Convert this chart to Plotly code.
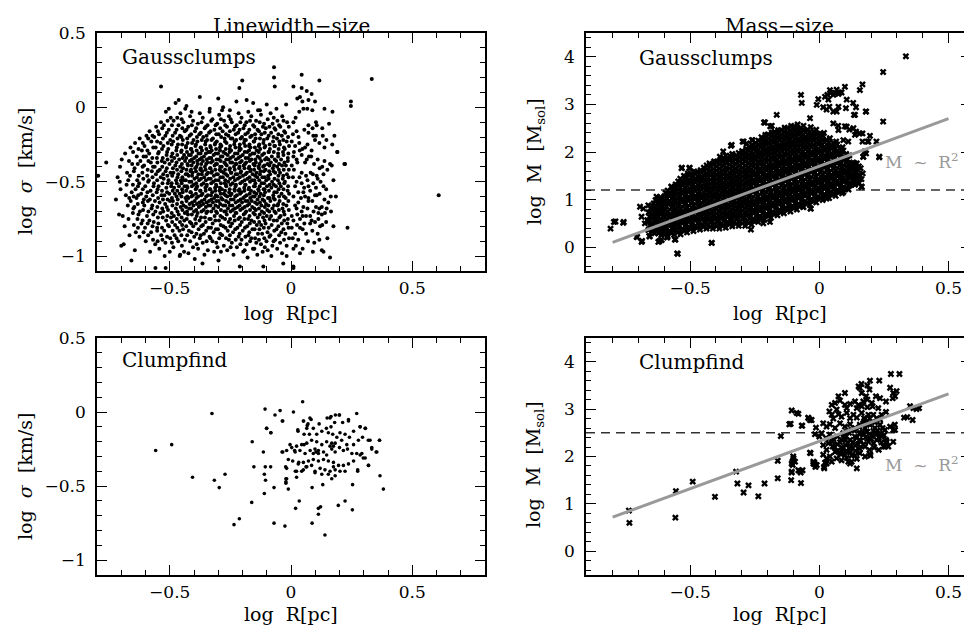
import plotly.graph_objects as go

# ---------------- data ----------------
# Gaussclumps, linewidth-size: (log R [pc], log sigma [km/s])
gc_lw_outer = [
    (-0.536, 0.14), (-0.201, 0.18), (-0.070, 0.27), (-0.070, 0.20), (-0.067, 0.14), (0.044, 0.22), (0.117, 0.18),
    (0.333, 0.19), (0.247, 0.04), (0.247, 0.01), (0.609, -0.59), (0.233, -0.81), (0.223, -0.38), (0.191, -0.30),
    (0.161, -1.01), (0.127, -0.96), (-0.213, 0.13), (-0.183, 0.05), (-0.300, 0.06), (-0.376, 0.07), (-0.463, 0.05),
    (-0.504, -0.01), (-0.431, 0.01), (-0.762, -0.37), (-0.795, -0.46), (-0.709, -0.72), (-0.690, -0.92),
    (-0.658, -1.03), (-0.559, -1.08), (-0.459, -1.00), (-0.517, -1.08), (-0.365, -1.05), (-0.211, -1.07),
    (-0.114, -1.07), (-0.032, -1.05), (0.010, -1.07), (-0.018, -1.00), (0.044, 0.13), (0.065, 0.11), (0.010, 0.14),
    (0.085, 0.09), (0.037, 0.07), (0.072, 0.05), (-0.335, -0.01), (-0.252, -0.02), (-0.156, 0.03), (-0.100, 0.02),
    (-0.128, -0.02), (-0.280, 0.00), (-0.225, 0.04), (-0.060, -0.01), (-0.020, 0.02), (-0.410, -0.03),
    (0.026, 0.06), (0.047, 0.04), (0.099, 0.04), (0.034, -0.03), (0.051, -0.01), (0.067, -0.01), (0.088, -0.02),
    (0.138, -0.01), (0.171, -0.03), (0.019, -0.07), (0.010, -0.10), (0.072, -0.12), (0.103, -0.10), (0.106, -0.12),
    (0.157, -0.11), (0.023, -0.16), (0.055, -0.15), (0.072, -0.17), (0.089, -0.14), (0.129, -0.14), (0.092, -0.19),
    (0.103, -0.19), (0.099, -0.22), (0.131, -0.19), (0.179, -0.19), (0.003, -0.23), (0.017, -0.26), (0.034, -0.24),
    (0.058, -0.27), (0.138, -0.27), (0.191, -0.30), (0.010, -0.33), (0.023, -0.35), (0.044, -0.32), (0.065, -0.35),
    (0.074, -0.33), (0.058, -0.37), (0.083, -0.33), (0.110, -0.35), (0.138, -0.36), (0.129, -0.40), (0.161, -0.38),
    (0.168, -0.39), (0.220, -0.38), (0.003, -0.39), (0.012, -0.42), (0.026, -0.37), (0.044, -0.44), (0.062, -0.46),
    (0.081, -0.44), (0.106, -0.46), (0.110, -0.48), (0.134, -0.45), (0.175, -0.49), (0.023, -0.50), (0.017, -0.53),
    (0.044, -0.51), (0.054, -0.54), (0.030, -0.57), (0.051, -0.57), (0.072, -0.53), (0.092, -0.51), (0.079, -0.56),
    (0.134, -0.53), (0.103, -0.54), (0.058, -0.60), (0.072, -0.61), (0.099, -0.59), (0.106, -0.59), (0.164, -0.60),
    (0.017, -0.66), (0.030, -0.64), (0.023, -0.68), (0.051, -0.67), (0.072, -0.63), (0.103, -0.67), (0.117, -0.68),
    (0.127, -0.67), (0.147, -0.68), (0.154, -0.64), (0.140, -0.71), (0.127, -0.72), (0.113, -0.71), (0.003, -0.73),
    (0.010, -0.76), (0.026, -0.72), (0.037, -0.75), (0.048, -0.73), (0.062, -0.73), (0.079, -0.73), (0.085, -0.76),
    (0.099, -0.77), (0.079, -0.78), (0.120, -0.80), (0.129, -0.79), (0.003, -0.81), (0.017, -0.85), (0.037, -0.81),
    (0.048, -0.82), (0.062, -0.85), (0.007, -0.88), (0.030, -0.89), (0.096, -0.91), (0.117, -0.89), (0.010, -0.95),
    (0.037, -0.98), (0.048, -0.95), (0.134, -0.97), (0.010, -1.08),
    (0.008, -0.18), (0.031, -0.20), (0.047, -0.28), (0.068, -0.25), (0.085, -0.29), (0.117, -0.24), (0.146, -0.22),
    (0.012, -0.30), (0.036, -0.29), (0.095, -0.38), (0.118, -0.41), (0.150, -0.42), (0.008, -0.47), (0.035, -0.47),
    (0.068, -0.49), (0.090, -0.45), (0.122, -0.50), (0.145, -0.55), (0.010, -0.60), (0.041, -0.61), (0.088, -0.63),
    (0.118, -0.58), (0.138, -0.62), (0.165, -0.70), (0.044, -0.70), (0.068, -0.68), (0.093, -0.70), (0.113, -0.75),
    (0.145, -0.77), (0.025, -0.79), (0.055, -0.78), (0.088, -0.83), (0.110, -0.85), (0.070, -0.90), (0.020, -0.93),
    (0.090, -0.97), (0.150, -0.88), (0.175, -0.80), (0.185, -0.60), (0.170, -0.25),
]
gc_lw_left = [
    (-0.715, -0.47), (-0.722, -0.62), (-0.705, -0.40),
    (-0.698, -0.35), (-0.703, -0.55), (-0.694, -0.73), (-0.700, -0.93), (-0.706, -0.50),
    (-0.684, -0.31), (-0.676, -0.44), (-0.681, -0.59), (-0.673, -0.66), (-0.686, -0.80), (-0.678, -0.52),
    (-0.668, -0.36), (-0.671, -0.49), (-0.667, -0.61), (-0.670, -0.75),
    (-0.662, -0.27), (-0.655, -0.38), (-0.664, -0.46), (-0.657, -0.57), (-0.661, -0.63), (-0.652, -0.71), (-0.666, -0.86),
    (-0.651, -0.30), (-0.648, -0.43), (-0.652, -0.52), (-0.649, -0.60), (-0.650, -0.68), (-0.648, -0.79),
    (-0.643, -0.24), (-0.636, -0.33), (-0.645, -0.41), (-0.634, -0.49), (-0.641, -0.55), (-0.637, -0.61), (-0.646, -0.67),
    (-0.633, -0.75), (-0.640, -0.84), (-0.644, -0.96),
    (-0.629, -0.28), (-0.632, -0.38), (-0.628, -0.46), (-0.631, -0.53), (-0.630, -0.59), (-0.632, -0.65), (-0.629, -0.72),
    (-0.631, -0.81),
    (-0.624, -0.21), (-0.615, -0.29), (-0.621, -0.36), (-0.613, -0.44), (-0.626, -0.51), (-0.618, -0.58), (-0.611, -0.64),
    (-0.623, -0.70), (-0.617, -0.78), (-0.625, -0.87),
    (-0.611, -0.24), (-0.608, -0.33), (-0.612, -0.40), (-0.609, -0.48), (-0.611, -0.55), (-0.607, -0.62), (-0.610, -0.69),
    (-0.612, -0.76), (-0.608, -0.84),
    (-0.596, -0.19), (-0.604, -0.26), (-0.598, -0.33), (-0.606, -0.39), (-0.593, -0.46), (-0.601, -0.53), (-0.597, -0.60),
    (-0.605, -0.66), (-0.594, -0.73), (-0.602, -0.81), (-0.599, -0.90),
    (-0.589, -0.21), (-0.592, -0.29), (-0.588, -0.36), (-0.591, -0.42), (-0.589, -0.50), (-0.592, -0.57), (-0.590, -0.63),
    (-0.588, -0.70), (-0.591, -0.78), (-0.589, -0.86),
    (-0.583, -0.16), (-0.576, -0.23), (-0.585, -0.31), (-0.578, -0.37), (-0.574, -0.43), (-0.586, -0.49), (-0.579, -0.56),
    (-0.582, -0.62), (-0.575, -0.68), (-0.584, -0.76), (-0.577, -0.84), (-0.581, -0.97),
    (-0.571, -0.19), (-0.568, -0.27), (-0.572, -0.34), (-0.569, -0.40), (-0.571, -0.47), (-0.567, -0.53), (-0.570, -0.59),
    (-0.572, -0.66), (-0.568, -0.72), (-0.571, -0.80), (-0.569, -0.89),
    (-0.556, -0.13), (-0.564, -0.20), (-0.558, -0.27), (-0.553, -0.34), (-0.562, -0.40), (-0.557, -0.45), (-0.565, -0.51),
    (-0.554, -0.57), (-0.561, -0.63), (-0.559, -0.70), (-0.566, -0.77), (-0.552, -0.83), (-0.560, -0.92),
    (-0.549, -0.16), (-0.552, -0.23), (-0.548, -0.31), (-0.551, -0.37), (-0.549, -0.43), (-0.552, -0.49), (-0.550, -0.55),
    (-0.548, -0.61), (-0.551, -0.67), (-0.549, -0.74), (-0.552, -0.81), (-0.550, -0.90),
    (-0.536, -0.10), (-0.544, -0.18), (-0.538, -0.24), (-0.545, -0.30), (-0.533, -0.36), (-0.541, -0.42), (-0.537, -0.47),
    (-0.546, -0.53), (-0.534, -0.59), (-0.542, -0.64), (-0.539, -0.71), (-0.547, -0.78), (-0.535, -0.86), (-0.543, -0.95),
    (-0.531, -0.14), (-0.528, -0.21), (-0.532, -0.28), (-0.529, -0.34), (-0.531, -0.40), (-0.527, -0.45), (-0.530, -0.51),
    (-0.532, -0.56), (-0.528, -0.62), (-0.531, -0.68), (-0.529, -0.74), (-0.532, -0.81), (-0.530, -0.89),
    (-0.516, -0.03), (-0.524, -0.12), (-0.518, -0.19), (-0.526, -0.26), (-0.513, -0.32), (-0.521, -0.37), (-0.517, -0.43),
    (-0.525, -0.48), (-0.514, -0.54), (-0.522, -0.59), (-0.519, -0.65), (-0.527, -0.70), (-0.515, -0.76), (-0.523, -0.83),
    (-0.518, -0.91), (-0.521, -1.00),
    (-0.509, -0.09), (-0.512, -0.17), (-0.508, -0.24), (-0.511, -0.30), (-0.509, -0.35), (-0.512, -0.41), (-0.510, -0.46),
    (-0.508, -0.51), (-0.511, -0.57), (-0.509, -0.62), (-0.512, -0.67), (-0.510, -0.73), (-0.508, -0.79), (-0.511, -0.87),
    (-0.496, -0.07), (-0.504, -0.15), (-0.498, -0.22), (-0.506, -0.28), (-0.493, -0.33), (-0.501, -0.38), (-0.497, -0.44),
    (-0.505, -0.49), (-0.494, -0.53), (-0.502, -0.58), (-0.499, -0.63), (-0.507, -0.69), (-0.495, -0.74), (-0.503, -0.80),
    (-0.498, -0.88), (-0.500, -0.97),
    (-0.491, -0.12), (-0.488, -0.19), (-0.492, -0.25), (-0.489, -0.31), (-0.491, -0.36), (-0.487, -0.41), (-0.490, -0.46),
    (-0.492, -0.51), (-0.488, -0.56), (-0.491, -0.61), (-0.489, -0.66), (-0.492, -0.71), (-0.490, -0.77), (-0.488, -0.83),
    (-0.491, -0.91),
    (-0.476, 0.03), (-0.484, -0.09), (-0.478, -0.17), (-0.486, -0.23), (-0.473, -0.29), (-0.481, -0.34), (-0.477, -0.39),
    (-0.485, -0.44), (-0.474, -0.49), (-0.482, -0.54), (-0.479, -0.58), (-0.487, -0.63), (-0.475, -0.68), (-0.483, -0.73),
    (-0.478, -0.79), (-0.480, -0.86), (-0.485, -0.94),
    (-0.469, -0.07), (-0.472, -0.15), (-0.468, -0.21), (-0.471, -0.27), (-0.469, -0.32), (-0.472, -0.37), (-0.470, -0.42),
    (-0.468, -0.47), (-0.471, -0.51), (-0.469, -0.56), (-0.472, -0.60), (-0.470, -0.65), (-0.468, -0.70), (-0.471, -0.75),
    (-0.469, -0.81), (-0.472, -0.88),
    (-0.456, -0.04), (-0.464, -0.12), (-0.458, -0.19), (-0.466, -0.25), (-0.453, -0.30), (-0.461, -0.35), (-0.457, -0.40),
    (-0.465, -0.45), (-0.454, -0.49), (-0.462, -0.53), (-0.459, -0.58), (-0.467, -0.62), (-0.455, -0.67), (-0.463, -0.72),
    (-0.458, -0.77), (-0.460, -0.83), (-0.465, -0.90), (-0.457, -0.99),
    (-0.451, -0.08), (-0.448, -0.14), (-0.452, -0.20), (-0.449, -0.25), (-0.451, -0.29), (-0.447, -0.34), (-0.450, -0.38),
    (-0.452, -0.43), (-0.448, -0.47), (-0.451, -0.51), (-0.449, -0.55), (-0.452, -0.60), (-0.450, -0.64), (-0.448, -0.69),
    (-0.451, -0.74), (-0.449, -0.79), (-0.452, -0.86), (-0.450, -0.93),
    (-0.436, -0.01), (-0.444, -0.10), (-0.438, -0.16), (-0.446, -0.22), (-0.433, -0.27), (-0.441, -0.32), (-0.437, -0.36),
    (-0.445, -0.41), (-0.434, -0.45), (-0.442, -0.49), (-0.439, -0.53), (-0.447, -0.57), (-0.435, -0.61), (-0.443, -0.66),
    (-0.438, -0.71), (-0.440, -0.76), (-0.445, -0.82), (-0.437, -0.89), (-0.441, -0.97),
]
gc_lw_core = [
    (-0.431, -0.15), (-0.428, -0.21), (-0.433, -0.26), (-0.429, -0.30), (-0.432, -0.34), (-0.427, -0.38), (-0.431, -0.42),
    (-0.428, -0.45), (-0.434, -0.49), (-0.429, -0.53), (-0.432, -0.56), (-0.428, -0.60), (-0.431, -0.63), (-0.433, -0.67),
    (-0.429, -0.70), (-0.430, -0.75), (-0.432, -0.80), (-0.428, -0.86),
    (-0.416, -0.06), (-0.424, -0.13), (-0.418, -0.19), (-0.426, -0.24), (-0.413, -0.28), (-0.421, -0.32), (-0.417, -0.36),
    (-0.425, -0.39), (-0.414, -0.43), (-0.422, -0.46), (-0.419, -0.50), (-0.427, -0.54), (-0.415, -0.57), (-0.423, -0.61),
    (-0.418, -0.65), (-0.420, -0.68), (-0.425, -0.72), (-0.417, -0.77), (-0.421, -0.83), (-0.416, -0.90), (-0.423, -0.98),
    (-0.409, -0.12), (-0.412, -0.18), (-0.408, -0.24), (-0.411, -0.28), (-0.413, -0.32), (-0.409, -0.35), (-0.410, -0.39),
    (-0.412, -0.42), (-0.408, -0.46), (-0.411, -0.50), (-0.409, -0.53), (-0.413, -0.57), (-0.410, -0.60), (-0.408, -0.64),
    (-0.412, -0.68), (-0.409, -0.72), (-0.411, -0.78), (-0.410, -0.84),
    (-0.404, -0.09), (-0.396, -0.16), (-0.402, -0.22), (-0.394, -0.26), (-0.407, -0.30), (-0.399, -0.34), (-0.403, -0.37),
    (-0.395, -0.41), (-0.406, -0.44), (-0.398, -0.48), (-0.401, -0.52), (-0.393, -0.55), (-0.405, -0.59), (-0.397, -0.63),
    (-0.402, -0.66), (-0.400, -0.70), (-0.395, -0.75), (-0.403, -0.80), (-0.399, -0.87), (-0.404, -0.94), (-0.397, -1.02),
    (-0.391, -0.14), (-0.388, -0.20), (-0.392, -0.25), (-0.389, -0.29), (-0.391, -0.33), (-0.387, -0.36), (-0.390, -0.40),
    (-0.392, -0.43), (-0.388, -0.47), (-0.391, -0.51), (-0.389, -0.54), (-0.392, -0.58), (-0.390, -0.61), (-0.388, -0.65),
    (-0.391, -0.69), (-0.389, -0.73), (-0.392, -0.78), (-0.390, -0.85), (-0.389, -0.92),
    (-0.376, -0.04), (-0.384, -0.11), (-0.378, -0.18), (-0.386, -0.23), (-0.373, -0.27), (-0.381, -0.31), (-0.377, -0.35),
    (-0.385, -0.38), (-0.374, -0.42), (-0.382, -0.45), (-0.379, -0.49), (-0.387, -0.53), (-0.375, -0.56), (-0.383, -0.60),
    (-0.378, -0.64), (-0.380, -0.67), (-0.385, -0.71), (-0.377, -0.76), (-0.381, -0.82), (-0.376, -0.88), (-0.383, -0.95),
    (-0.369, -0.10), (-0.372, -0.17), (-0.368, -0.22), (-0.371, -0.27), (-0.373, -0.31), (-0.369, -0.34), (-0.370, -0.38),
    (-0.372, -0.41), (-0.368, -0.45), (-0.371, -0.48), (-0.369, -0.52), (-0.373, -0.56), (-0.370, -0.59), (-0.368, -0.63),
    (-0.372, -0.66), (-0.369, -0.70), (-0.371, -0.74), (-0.370, -0.80), (-0.372, -0.86),
    (-0.364, -0.07), (-0.356, -0.14), (-0.362, -0.20), (-0.354, -0.25), (-0.367, -0.29), (-0.359, -0.33), (-0.363, -0.36),
    (-0.355, -0.40), (-0.366, -0.43), (-0.358, -0.47), (-0.361, -0.51), (-0.353, -0.54), (-0.365, -0.58), (-0.357, -0.62),
    (-0.362, -0.65), (-0.360, -0.69), (-0.355, -0.74), (-0.363, -0.79), (-0.359, -0.85), (-0.364, -0.91), (-0.357, -0.99),
    (-0.351, -0.13), (-0.348, -0.19), (-0.352, -0.23), (-0.349, -0.28), (-0.351, -0.31), (-0.347, -0.35), (-0.350, -0.38),
    (-0.352, -0.42), (-0.348, -0.45), (-0.351, -0.49), (-0.349, -0.53), (-0.352, -0.56), (-0.350, -0.60), (-0.348, -0.64),
    (-0.351, -0.67), (-0.349, -0.71), (-0.352, -0.77), (-0.350, -0.83), (-0.348, -0.90),
    (-0.336, -0.03), (-0.344, -0.12), (-0.338, -0.17), (-0.346, -0.22), (-0.333, -0.26), (-0.341, -0.30), (-0.337, -0.34),
    (-0.345, -0.37), (-0.334, -0.41), (-0.342, -0.44), (-0.339, -0.48), (-0.347, -0.52), (-0.335, -0.55), (-0.343, -0.59),
    (-0.338, -0.63), (-0.340, -0.66), (-0.345, -0.70), (-0.337, -0.75), (-0.341, -0.81), (-0.336, -0.87), (-0.343, -0.96),
    (-0.329, -0.09), (-0.332, -0.16), (-0.328, -0.22), (-0.331, -0.27), (-0.333, -0.30), (-0.329, -0.34), (-0.330, -0.37),
    (-0.332, -0.41), (-0.328, -0.44), (-0.331, -0.48), (-0.329, -0.51), (-0.333, -0.55), (-0.330, -0.59), (-0.328, -0.62),
    (-0.332, -0.66), (-0.329, -0.70), (-0.331, -0.75), (-0.330, -0.81), (-0.332, -0.88),
    (-0.324, -0.08), (-0.316, -0.15), (-0.322, -0.21), (-0.314, -0.25), (-0.327, -0.29), (-0.319, -0.32), (-0.323, -0.36),
    (-0.315, -0.39), (-0.326, -0.43), (-0.318, -0.46), (-0.321, -0.50), (-0.313, -0.54), (-0.325, -0.57), (-0.317, -0.61),
    (-0.322, -0.64), (-0.320, -0.68), (-0.315, -0.73), (-0.323, -0.78), (-0.319, -0.84), (-0.324, -0.90), (-0.317, -0.97),
    (-0.311, -0.12), (-0.308, -0.18), (-0.312, -0.24), (-0.309, -0.28), (-0.311, -0.31), (-0.307, -0.35), (-0.310, -0.38),
    (-0.312, -0.42), (-0.308, -0.45), (-0.311, -0.49), (-0.309, -0.52), (-0.312, -0.56), (-0.310, -0.59), (-0.308, -0.63),
    (-0.311, -0.66), (-0.309, -0.70), (-0.312, -0.76), (-0.310, -0.82), (-0.308, -0.91),
    (-0.296, -0.05), (-0.304, -0.11), (-0.298, -0.18), (-0.306, -0.23), (-0.293, -0.27), (-0.301, -0.31), (-0.297, -0.35),
    (-0.305, -0.38), (-0.294, -0.42), (-0.302, -0.45), (-0.299, -0.49), (-0.307, -0.53), (-0.295, -0.56), (-0.303, -0.60),
    (-0.298, -0.63), (-0.300, -0.67), (-0.305, -0.71), (-0.297, -0.76), (-0.301, -0.82), (-0.296, -0.88), (-0.303, -0.94),
    (-0.299, -1.03),
    (-0.289, -0.08), (-0.292, -0.14), (-0.288, -0.20), (-0.291, -0.25), (-0.293, -0.29), (-0.289, -0.33), (-0.290, -0.36),
    (-0.292, -0.40), (-0.288, -0.43), (-0.291, -0.47), (-0.289, -0.51), (-0.293, -0.54), (-0.290, -0.58), (-0.288, -0.61),
    (-0.292, -0.65), (-0.289, -0.69), (-0.291, -0.73), (-0.290, -0.79), (-0.292, -0.85), (-0.289, -0.97),
    (-0.284, -0.02), (-0.276, -0.09), (-0.282, -0.16), (-0.274, -0.21), (-0.287, -0.26), (-0.279, -0.30), (-0.283, -0.33),
    (-0.275, -0.37), (-0.286, -0.40), (-0.278, -0.44), (-0.281, -0.47), (-0.273, -0.51), (-0.285, -0.55), (-0.277, -0.58),
    (-0.282, -0.62), (-0.280, -0.66), (-0.275, -0.70), (-0.283, -0.74), (-0.279, -0.80), (-0.284, -0.86), (-0.277, -0.93),
    (-0.271, -0.12), (-0.268, -0.18), (-0.272, -0.23), (-0.269, -0.28), (-0.271, -0.31), (-0.267, -0.35), (-0.270, -0.38),
    (-0.272, -0.42), (-0.268, -0.45), (-0.271, -0.49), (-0.269, -0.52), (-0.272, -0.56), (-0.270, -0.59), (-0.268, -0.63),
    (-0.271, -0.66), (-0.269, -0.70), (-0.272, -0.75), (-0.270, -0.81), (-0.268, -0.88),
    (-0.256, -0.06), (-0.264, -0.13), (-0.258, -0.19), (-0.266, -0.24), (-0.253, -0.28), (-0.261, -0.32), (-0.257, -0.35),
    (-0.265, -0.39), (-0.254, -0.42), (-0.262, -0.46), (-0.259, -0.50), (-0.267, -0.53), (-0.255, -0.57), (-0.263, -0.60),
    (-0.258, -0.64), (-0.260, -0.68), (-0.265, -0.72), (-0.257, -0.77), (-0.261, -0.83), (-0.256, -0.89), (-0.263, -0.96),
    (-0.249, -0.08), (-0.252, -0.16), (-0.248, -0.21), (-0.251, -0.26), (-0.253, -0.30), (-0.249, -0.34), (-0.250, -0.37),
    (-0.252, -0.41), (-0.248, -0.44), (-0.251, -0.48), (-0.249, -0.52), (-0.253, -0.55), (-0.250, -0.59), (-0.248, -0.62),
    (-0.252, -0.66), (-0.249, -0.70), (-0.251, -0.75), (-0.250, -0.80), (-0.252, -0.86), (-0.249, -0.94),
    (-0.244, -0.10), (-0.236, -0.15), (-0.242, -0.21), (-0.234, -0.25), (-0.247, -0.29), (-0.239, -0.33), (-0.243, -0.37),
    (-0.235, -0.40), (-0.246, -0.44), (-0.238, -0.47), (-0.241, -0.51), (-0.233, -0.55), (-0.245, -0.58), (-0.237, -0.62),
    (-0.242, -0.66), (-0.240, -0.69), (-0.235, -0.73), (-0.243, -0.78), (-0.239, -0.84), (-0.244, -0.91), (-0.237, -0.99),
    (-0.231, -0.13), (-0.228, -0.18), (-0.232, -0.23), (-0.229, -0.27), (-0.231, -0.31), (-0.227, -0.35), (-0.230, -0.38),
    (-0.232, -0.42), (-0.228, -0.45), (-0.231, -0.49), (-0.229, -0.53), (-0.232, -0.56), (-0.230, -0.60), (-0.228, -0.64),
    (-0.231, -0.68), (-0.229, -0.71), (-0.232, -0.76), (-0.230, -0.82), (-0.228, -0.89),
    (-0.216, -0.04), (-0.224, -0.12), (-0.218, -0.17), (-0.226, -0.22), (-0.213, -0.27), (-0.221, -0.31), (-0.217, -0.34),
    (-0.225, -0.38), (-0.214, -0.41), (-0.222, -0.45), (-0.219, -0.48), (-0.227, -0.52), (-0.215, -0.56), (-0.223, -0.59),
    (-0.218, -0.63), (-0.220, -0.67), (-0.225, -0.71), (-0.217, -0.75), (-0.221, -0.81), (-0.216, -0.87), (-0.223, -0.94),
    (-0.209, -0.10), (-0.212, -0.15), (-0.208, -0.21), (-0.211, -0.25), (-0.213, -0.29), (-0.209, -0.33), (-0.210, -0.37),
    (-0.212, -0.40), (-0.208, -0.44), (-0.211, -0.47), (-0.209, -0.51), (-0.213, -0.55), (-0.210, -0.58), (-0.208, -0.62),
    (-0.212, -0.66), (-0.209, -0.69), (-0.211, -0.74), (-0.210, -0.79), (-0.212, -0.85), (-0.209, -0.92),
    (-0.204, -0.07), (-0.196, -0.14), (-0.202, -0.20), (-0.194, -0.24), (-0.207, -0.28), (-0.199, -0.32), (-0.203, -0.36),
    (-0.195, -0.39), (-0.206, -0.43), (-0.198, -0.46), (-0.201, -0.50), (-0.193, -0.54), (-0.205, -0.57), (-0.197, -0.61),
    (-0.202, -0.64), (-0.200, -0.68), (-0.195, -0.72), (-0.203, -0.77), (-0.199, -0.83), (-0.204, -0.89), (-0.197, -0.97),
    (-0.191, -0.12), (-0.188, -0.18), (-0.192, -0.22), (-0.189, -0.26), (-0.191, -0.30), (-0.187, -0.34), (-0.190, -0.38),
    (-0.192, -0.41), (-0.188, -0.45), (-0.191, -0.49), (-0.189, -0.52), (-0.192, -0.56), (-0.190, -0.60), (-0.188, -0.63),
    (-0.191, -0.67), (-0.189, -0.71), (-0.192, -0.75), (-0.190, -0.81), (-0.188, -0.87), (-0.191, -0.96),
    (-0.176, -0.03), (-0.184, -0.10), (-0.178, -0.17), (-0.186, -0.22), (-0.173, -0.26), (-0.181, -0.30), (-0.177, -0.34),
    (-0.185, -0.37), (-0.174, -0.41), (-0.182, -0.44), (-0.179, -0.48), (-0.187, -0.52), (-0.175, -0.55), (-0.183, -0.59),
    (-0.178, -0.63), (-0.180, -0.66), (-0.185, -0.70), (-0.177, -0.75), (-0.181, -0.80), (-0.176, -0.86), (-0.183, -0.92),
    (-0.179, -1.01),
    (-0.169, -0.09), (-0.172, -0.15), (-0.168, -0.20), (-0.171, -0.25), (-0.173, -0.29), (-0.169, -0.32), (-0.170, -0.36),
    (-0.172, -0.40), (-0.168, -0.43), (-0.171, -0.47), (-0.169, -0.50), (-0.173, -0.54), (-0.170, -0.58), (-0.168, -0.61),
    (-0.172, -0.65), (-0.169, -0.69), (-0.171, -0.73), (-0.170, -0.78), (-0.172, -0.84), (-0.169, -0.90),
    (-0.164, -0.06), (-0.156, -0.12), (-0.162, -0.19), (-0.154, -0.23), (-0.167, -0.27), (-0.159, -0.31), (-0.163, -0.35),
    (-0.155, -0.38), (-0.166, -0.42), (-0.158, -0.45), (-0.161, -0.49), (-0.153, -0.53), (-0.165, -0.56), (-0.157, -0.60),
    (-0.162, -0.63), (-0.160, -0.67), (-0.155, -0.71), (-0.163, -0.76), (-0.159, -0.82), (-0.164, -0.88), (-0.157, -0.95),
    (-0.151, -0.13), (-0.148, -0.18), (-0.152, -0.23), (-0.149, -0.27), (-0.151, -0.31), (-0.147, -0.35), (-0.150, -0.39),
    (-0.152, -0.42), (-0.148, -0.46), (-0.151, -0.49), (-0.149, -0.53), (-0.152, -0.57), (-0.150, -0.60), (-0.148, -0.64),
    (-0.151, -0.68), (-0.149, -0.72), (-0.152, -0.77), (-0.150, -0.82), (-0.148, -0.88), (-0.151, -0.95),
    (-0.136, -0.02), (-0.144, -0.09), (-0.138, -0.15), (-0.146, -0.21), (-0.133, -0.26), (-0.141, -0.29), (-0.137, -0.33),
    (-0.145, -0.37), (-0.134, -0.40), (-0.142, -0.44), (-0.139, -0.47), (-0.147, -0.51), (-0.135, -0.55), (-0.143, -0.58),
    (-0.138, -0.62), (-0.140, -0.65), (-0.145, -0.69), (-0.137, -0.74), (-0.141, -0.79), (-0.136, -0.85), (-0.143, -0.91),
    (-0.139, -0.99),
    (-0.129, -0.10), (-0.132, -0.16), (-0.128, -0.21), (-0.131, -0.25), (-0.133, -0.30), (-0.129, -0.34), (-0.130, -0.38),
    (-0.132, -0.41), (-0.128, -0.45), (-0.131, -0.49), (-0.129, -0.53), (-0.133, -0.56), (-0.130, -0.60), (-0.128, -0.64),
    (-0.132, -0.68), (-0.129, -0.72), (-0.131, -0.77), (-0.130, -0.82), (-0.132, -0.89),
    (-0.124, -0.05), (-0.116, -0.13), (-0.122, -0.18), (-0.114, -0.24), (-0.127, -0.28), (-0.119, -0.32), (-0.123, -0.36),
    (-0.115, -0.40), (-0.126, -0.43), (-0.118, -0.47), (-0.121, -0.51), (-0.113, -0.55), (-0.125, -0.58), (-0.117, -0.62),
    (-0.122, -0.66), (-0.120, -0.70), (-0.115, -0.74), (-0.123, -0.79), (-0.119, -0.85), (-0.124, -0.92), (-0.117, -0.97),
    (-0.111, -0.11), (-0.108, -0.17), (-0.112, -0.22), (-0.109, -0.27), (-0.111, -0.31), (-0.107, -0.35), (-0.110, -0.39),
    (-0.112, -0.43), (-0.108, -0.47), (-0.111, -0.51), (-0.109, -0.55), (-0.112, -0.59), (-0.110, -0.63), (-0.108, -0.67),
    (-0.111, -0.71), (-0.109, -0.76), (-0.112, -0.81), (-0.110, -0.88), (-0.108, -0.94),
    (-0.096, -0.08), (-0.104, -0.14), (-0.098, -0.21), (-0.106, -0.26), (-0.093, -0.30), (-0.101, -0.34), (-0.097, -0.38),
    (-0.105, -0.42), (-0.094, -0.46), (-0.102, -0.49), (-0.099, -0.53), (-0.107, -0.57), (-0.095, -0.61), (-0.103, -0.65),
    (-0.098, -0.69), (-0.100, -0.73), (-0.105, -0.78), (-0.097, -0.84), (-0.101, -0.90), (-0.096, -0.96),
    (-0.089, -0.13), (-0.092, -0.19), (-0.088, -0.25), (-0.091, -0.30), (-0.093, -0.35), (-0.089, -0.39), (-0.090, -0.43),
    (-0.092, -0.48), (-0.088, -0.52), (-0.091, -0.56), (-0.089, -0.61), (-0.093, -0.66), (-0.090, -0.70), (-0.088, -0.75),
    (-0.092, -0.81), (-0.089, -0.87),
    (-0.084, -0.04), (-0.076, -0.11), (-0.082, -0.17), (-0.074, -0.23), (-0.087, -0.28), (-0.079, -0.33), (-0.083, -0.37),
    (-0.075, -0.41), (-0.086, -0.45), (-0.078, -0.50), (-0.081, -0.54), (-0.073, -0.59), (-0.085, -0.63), (-0.077, -0.68),
    (-0.082, -0.73), (-0.080, -0.79), (-0.085, -0.86), (-0.077, -0.93), (-0.081, -1.00),
    (-0.071, -0.07), (-0.068, -0.14), (-0.072, -0.20), (-0.069, -0.26), (-0.071, -0.30), (-0.067, -0.35), (-0.070, -0.39),
    (-0.072, -0.43), (-0.068, -0.48), (-0.071, -0.52), (-0.069, -0.57), (-0.072, -0.61), (-0.070, -0.66), (-0.068, -0.70),
    (-0.071, -0.76), (-0.069, -0.83), (-0.072, -0.90),
    (-0.056, -0.09), (-0.064, -0.15), (-0.058, -0.21), (-0.066, -0.26), (-0.053, -0.31), (-0.061, -0.36), (-0.057, -0.40),
    (-0.065, -0.44), (-0.054, -0.49), (-0.062, -0.53), (-0.059, -0.57), (-0.067, -0.62), (-0.055, -0.66), (-0.063, -0.71),
    (-0.058, -0.76), (-0.060, -0.82), (-0.065, -0.89), (-0.057, -0.95),
    (-0.049, -0.12), (-0.052, -0.18), (-0.048, -0.23), (-0.051, -0.28), (-0.053, -0.33), (-0.049, -0.38), (-0.050, -0.42),
    (-0.052, -0.46), (-0.048, -0.51), (-0.051, -0.55), (-0.049, -0.60), (-0.053, -0.65), (-0.050, -0.69), (-0.048, -0.74),
    (-0.052, -0.80), (-0.049, -0.86),
    (-0.036, -0.06), (-0.044, -0.13), (-0.038, -0.19), (-0.046, -0.25), (-0.033, -0.30), (-0.041, -0.35), (-0.037, -0.39),
    (-0.045, -0.44), (-0.034, -0.48), (-0.042, -0.53), (-0.039, -0.58), (-0.047, -0.63), (-0.035, -0.68), (-0.043, -0.73),
    (-0.038, -0.78), (-0.040, -0.84), (-0.045, -0.91), (-0.037, -0.98),
    (-0.031, -0.09), (-0.028, -0.16), (-0.032, -0.22), (-0.029, -0.27), (-0.031, -0.32), (-0.027, -0.37), (-0.030, -0.42),
    (-0.032, -0.46), (-0.028, -0.51), (-0.031, -0.55), (-0.029, -0.60), (-0.032, -0.65), (-0.030, -0.70), (-0.028, -0.76),
    (-0.031, -0.82), (-0.029, -0.89),
    (-0.016, -0.10), (-0.024, -0.17), (-0.018, -0.23), (-0.026, -0.28), (-0.013, -0.34), (-0.021, -0.39), (-0.017, -0.45),
    (-0.025, -0.50), (-0.014, -0.56), (-0.022, -0.61), (-0.019, -0.66), (-0.027, -0.72), (-0.015, -0.78), (-0.023, -0.85),
    (-0.018, -0.93),
    (-0.009, -0.13), (-0.012, -0.20), (-0.008, -0.26), (-0.011, -0.31), (-0.013, -0.36), (-0.009, -0.42), (-0.010, -0.47),
    (-0.012, -0.53), (-0.008, -0.58), (-0.011, -0.63), (-0.009, -0.69), (-0.013, -0.75), (-0.010, -0.81), (-0.008, -0.88),
]

# Gaussclumps, mass-size: (log R [pc], log M [Msol])
gc_ms_outer = [
    (-0.808, 0.39), (-0.789, 0.54), (-0.757, 0.53), (-0.705, 0.21), (-0.686, 0.13), (-0.656, 0.23), (-0.618, 0.13),
    (-0.589, 0.20), (-0.557, 0.16), (-0.548, -0.14), (-0.416, 0.09), (-0.532, 1.67), (-0.502, 1.67), (-0.342, 2.13),
    (-0.293, 2.22), (-0.261, 2.25), (-0.210, 2.62), (-0.190, 2.54), (-0.165, 2.78), (-0.071, 3.20), (-0.068, 3.03),
    (-0.010, 2.99), (0.015, 2.94), (0.035, 3.10), (0.022, 3.16), (0.054, 3.20), (0.077, 3.25), (0.099, 3.37),
    (0.067, 3.31), (0.041, 3.30), (-0.004, 3.11), (0.028, 2.89), (0.054, 2.85), (0.106, 3.10), (0.131, 3.03),
    (0.142, 2.94), (0.180, 2.85), (0.167, 3.42), (0.157, 3.30), (0.134, 2.78), (0.099, 2.54), (0.073, 2.55),
    (0.116, 2.47), (0.142, 2.43), (0.247, 3.68), (0.335, 4.01), (0.247, 2.64), (0.232, 1.89), (0.187, 2.22),
    (0.221, 2.22), (0.196, 2.34), (0.167, 2.39), (0.163, 1.27), (0.154, 1.35), (-0.033, 0.81), (0.138, 1.76),
    (0.176, 2.01), (0.170, 1.90), (-0.036, 2.71), (-0.184, 2.55),
    (0.031, 3.20), (0.044, 3.24), (0.061, 3.24), (0.074, 3.22), (0.086, 3.25), (0.039, 2.95), (0.067, 2.85),
    (0.074, 2.95), (0.103, 2.92), (0.138, 2.78), (0.181, 2.85), (0.132, 2.50), (0.157, 2.39), (0.138, 2.36),
    (0.106, 2.53), (0.074, 2.46), (0.054, 2.60), (0.093, 2.25), (0.112, 2.22), (0.167, 2.22), (0.190, 2.22),
    (-0.214, 2.62), (-0.297, 2.22), (-0.281, 2.18), (-0.258, 2.25), (-0.339, 2.15), (-0.385, 1.90), (-0.372, 2.01),
    (-0.533, 1.66), (-0.503, 1.66), (-0.516, 1.48), (-0.503, 1.38), (-0.572, 1.27), (-0.630, 1.06), (-0.617, 1.02),
    (-0.694, 0.85), (-0.681, 0.81), (-0.662, 0.88), (-0.688, 0.64), (-0.675, 0.50), (-0.666, 0.57), (-0.795, 0.53),
    (-0.759, 0.51), (-0.707, 0.22), (-0.688, 0.11), (-0.658, 0.23), (-0.623, 0.11), (-0.610, 0.15), (-0.559, 0.16),
    (-0.597, 0.39), (-0.550, -0.13), (-0.417, 0.09), (-0.265, 0.37), (-0.191, 0.53), (-0.217, 0.50), (-0.152, 0.74),
    (-0.114, 0.81), (-0.062, 0.85), (-0.034, 0.81), (0.028, 1.02), (0.093, 1.16), (0.164, 1.27), (0.132, 1.38),
    (0.145, 1.48), (0.170, 1.90), (0.181, 1.97), (0.232, 1.90),
]
gc_ms_core = [
    (-0.662, 0.36), (-0.655, 0.46), (-0.664, 0.55), (-0.657, 0.64), (-0.661, 0.73), (-0.653, 0.82),
    (-0.648, 0.33), (-0.645, 0.42), (-0.650, 0.51), (-0.646, 0.60), (-0.649, 0.69), (-0.644, 0.78), (-0.647, 0.87),
    (-0.637, 0.29), (-0.631, 0.38), (-0.640, 0.48), (-0.633, 0.56), (-0.638, 0.66), (-0.630, 0.74), (-0.636, 0.83),
    (-0.641, 0.92), (-0.634, 0.99),
    (-0.623, 0.29), (-0.620, 0.38), (-0.625, 0.47), (-0.621, 0.56), (-0.624, 0.65), (-0.619, 0.74), (-0.622, 0.83),
    (-0.626, 0.92), (-0.621, 1.00),
    (-0.612, 0.25), (-0.606, 0.34), (-0.615, 0.43), (-0.608, 0.52), (-0.613, 0.60), (-0.605, 0.70), (-0.611, 0.78),
    (-0.616, 0.87), (-0.609, 0.96), (-0.614, 1.05),
    (-0.598, 0.27), (-0.595, 0.36), (-0.600, 0.45), (-0.596, 0.54), (-0.599, 0.63), (-0.594, 0.71), (-0.597, 0.80),
    (-0.601, 0.89), (-0.596, 0.98), (-0.599, 1.07), (-0.595, 1.14),
    (-0.587, 0.23), (-0.581, 0.31), (-0.590, 0.41), (-0.583, 0.49), (-0.588, 0.58), (-0.580, 0.67), (-0.586, 0.75),
    (-0.591, 0.85), (-0.584, 0.93), (-0.589, 1.02), (-0.582, 1.11), (-0.587, 1.19),
    (-0.573, 0.30), (-0.570, 0.39), (-0.575, 0.48), (-0.571, 0.57), (-0.574, 0.66), (-0.569, 0.75), (-0.572, 0.84),
    (-0.576, 0.93), (-0.571, 1.02), (-0.574, 1.11), (-0.570, 1.20), (-0.573, 1.27),
    (-0.562, 0.26), (-0.556, 0.35), (-0.565, 0.44), (-0.558, 0.53), (-0.563, 0.62), (-0.555, 0.70), (-0.561, 0.79),
    (-0.566, 0.88), (-0.559, 0.97), (-0.564, 1.06), (-0.557, 1.15), (-0.562, 1.24), (-0.556, 1.32),
    (-0.548, 0.31), (-0.545, 0.40), (-0.550, 0.49), (-0.546, 0.58), (-0.549, 0.67), (-0.544, 0.76), (-0.547, 0.85),
    (-0.551, 0.94), (-0.546, 1.03), (-0.549, 1.12), (-0.545, 1.21), (-0.548, 1.30), (-0.546, 1.38),
    (-0.537, 0.27), (-0.531, 0.36), (-0.540, 0.45), (-0.533, 0.54), (-0.538, 0.63), (-0.530, 0.72), (-0.536, 0.81),
    (-0.541, 0.90), (-0.534, 0.99), (-0.539, 1.08), (-0.532, 1.17), (-0.537, 1.26), (-0.531, 1.35), (-0.538, 1.44),
    (-0.523, 0.35), (-0.520, 0.44), (-0.525, 0.53), (-0.521, 0.62), (-0.524, 0.71), (-0.519, 0.80), (-0.522, 0.89),
    (-0.526, 0.98), (-0.521, 1.07), (-0.524, 1.16), (-0.520, 1.25), (-0.523, 1.34), (-0.521, 1.43), (-0.524, 1.50),
    (-0.512, 0.31), (-0.506, 0.40), (-0.515, 0.49), (-0.508, 0.58), (-0.513, 0.66), (-0.505, 0.75), (-0.511, 0.84),
    (-0.516, 0.93), (-0.509, 1.02), (-0.514, 1.11), (-0.507, 1.20), (-0.512, 1.29), (-0.506, 1.38), (-0.513, 1.47),
    (-0.509, 1.55),
    (-0.498, 0.38), (-0.495, 0.47), (-0.500, 0.56), (-0.496, 0.65), (-0.499, 0.74), (-0.494, 0.83), (-0.497, 0.92),
    (-0.501, 1.01), (-0.496, 1.10), (-0.499, 1.19), (-0.495, 1.28), (-0.498, 1.37), (-0.496, 1.46), (-0.499, 1.54),
    (-0.487, 0.34), (-0.481, 0.43), (-0.490, 0.52), (-0.483, 0.61), (-0.488, 0.70), (-0.480, 0.78), (-0.486, 0.87),
    (-0.491, 0.96), (-0.484, 1.05), (-0.489, 1.14), (-0.482, 1.23), (-0.487, 1.32), (-0.481, 1.41), (-0.488, 1.50),
    (-0.484, 1.59),
    (-0.473, 0.41), (-0.470, 0.50), (-0.475, 0.59), (-0.471, 0.68), (-0.474, 0.77), (-0.469, 0.86), (-0.472, 0.95),
    (-0.476, 1.04), (-0.471, 1.13), (-0.474, 1.22), (-0.470, 1.31), (-0.473, 1.40), (-0.471, 1.49), (-0.474, 1.58),
    (-0.462, 0.37), (-0.456, 0.46), (-0.465, 0.55), (-0.458, 0.64), (-0.463, 0.73), (-0.455, 0.81), (-0.461, 0.90),
    (-0.466, 0.99), (-0.459, 1.08), (-0.464, 1.17), (-0.457, 1.26), (-0.462, 1.35), (-0.456, 1.44), (-0.463, 1.53),
    (-0.459, 1.62),
    (-0.448, 0.43), (-0.445, 0.52), (-0.450, 0.61), (-0.446, 0.70), (-0.449, 0.79), (-0.444, 0.88), (-0.447, 0.97),
    (-0.451, 1.06), (-0.446, 1.15), (-0.449, 1.24), (-0.445, 1.33), (-0.448, 1.42), (-0.446, 1.51), (-0.449, 1.60),
    (-0.447, 1.67),
    (-0.437, 0.39), (-0.431, 0.48), (-0.440, 0.57), (-0.433, 0.65), (-0.438, 0.74), (-0.430, 0.83), (-0.436, 0.92),
    (-0.441, 1.01), (-0.434, 1.10), (-0.439, 1.19), (-0.432, 1.28), (-0.437, 1.37), (-0.431, 1.46), (-0.438, 1.55),
    (-0.434, 1.64), (-0.436, 1.72),
    (-0.423, 0.43), (-0.420, 0.52), (-0.425, 0.61), (-0.421, 0.70), (-0.424, 0.79), (-0.419, 0.88), (-0.422, 0.97),
    (-0.426, 1.06), (-0.421, 1.15), (-0.424, 1.24), (-0.420, 1.33), (-0.423, 1.42), (-0.421, 1.51), (-0.424, 1.60),
    (-0.422, 1.69), (-0.425, 1.76),
    (-0.412, 0.39), (-0.406, 0.47), (-0.415, 0.56), (-0.408, 0.65), (-0.413, 0.74), (-0.405, 0.83), (-0.411, 0.92),
    (-0.416, 1.01), (-0.409, 1.10), (-0.414, 1.19), (-0.407, 1.28), (-0.412, 1.37), (-0.406, 1.46), (-0.413, 1.55),
    (-0.409, 1.64), (-0.411, 1.73), (-0.407, 1.80),
    (-0.398, 0.44), (-0.395, 0.53), (-0.400, 0.62), (-0.396, 0.71), (-0.399, 0.80), (-0.394, 0.89), (-0.397, 0.98),
    (-0.401, 1.07), (-0.396, 1.16), (-0.399, 1.25), (-0.395, 1.34), (-0.398, 1.43), (-0.396, 1.52), (-0.399, 1.61),
    (-0.397, 1.70), (-0.400, 1.79),
    (-0.387, 0.39), (-0.381, 0.48), (-0.390, 0.57), (-0.383, 0.66), (-0.388, 0.75), (-0.380, 0.84), (-0.386, 0.93),
    (-0.391, 1.02), (-0.384, 1.11), (-0.389, 1.20), (-0.382, 1.29), (-0.387, 1.38), (-0.381, 1.47), (-0.388, 1.56),
    (-0.384, 1.65), (-0.386, 1.74), (-0.382, 1.83),
    (-0.373, 0.45), (-0.370, 0.54), (-0.375, 0.63), (-0.371, 0.72), (-0.374, 0.81), (-0.369, 0.90), (-0.372, 0.99),
    (-0.376, 1.08), (-0.371, 1.17), (-0.374, 1.26), (-0.370, 1.35), (-0.373, 1.44), (-0.371, 1.53), (-0.374, 1.62),
    (-0.372, 1.71), (-0.375, 1.80), (-0.371, 1.88),
    (-0.362, 0.41), (-0.356, 0.50), (-0.365, 0.59), (-0.358, 0.68), (-0.363, 0.77), (-0.355, 0.86), (-0.361, 0.95),
    (-0.366, 1.04), (-0.359, 1.13), (-0.364, 1.22), (-0.357, 1.31), (-0.362, 1.40), (-0.356, 1.49), (-0.363, 1.58),
    (-0.359, 1.67), (-0.361, 1.76), (-0.357, 1.85), (-0.362, 1.92),
    (-0.348, 0.48), (-0.345, 0.57), (-0.350, 0.66), (-0.346, 0.75), (-0.349, 0.84), (-0.344, 0.93), (-0.347, 1.02),
    (-0.351, 1.11), (-0.346, 1.20), (-0.349, 1.29), (-0.345, 1.38), (-0.348, 1.47), (-0.346, 1.56), (-0.349, 1.65),
    (-0.347, 1.74), (-0.350, 1.83), (-0.346, 1.92),
    (-0.337, 0.44), (-0.331, 0.53), (-0.340, 0.62), (-0.333, 0.71), (-0.338, 0.80), (-0.330, 0.89), (-0.336, 0.98),
    (-0.341, 1.07), (-0.334, 1.16), (-0.339, 1.25), (-0.332, 1.34), (-0.337, 1.43), (-0.331, 1.52), (-0.338, 1.61),
    (-0.334, 1.70), (-0.336, 1.79), (-0.332, 1.88), (-0.337, 1.96),
    (-0.323, 0.49), (-0.320, 0.58), (-0.325, 0.67), (-0.321, 0.76), (-0.324, 0.85), (-0.319, 0.94), (-0.322, 1.03),
    (-0.326, 1.12), (-0.321, 1.21), (-0.324, 1.30), (-0.320, 1.39), (-0.323, 1.48), (-0.321, 1.57), (-0.324, 1.66),
    (-0.322, 1.75), (-0.325, 1.84), (-0.321, 1.93),
    (-0.312, 0.45), (-0.306, 0.54), (-0.315, 0.63), (-0.308, 0.72), (-0.313, 0.81), (-0.305, 0.90), (-0.311, 0.99),
    (-0.316, 1.08), (-0.309, 1.17), (-0.314, 1.26), (-0.307, 1.35), (-0.312, 1.44), (-0.306, 1.53), (-0.313, 1.62),
    (-0.309, 1.71), (-0.311, 1.80), (-0.307, 1.89), (-0.312, 1.98),
    (-0.298, 0.50), (-0.295, 0.59), (-0.300, 0.68), (-0.296, 0.77), (-0.299, 0.86), (-0.294, 0.95), (-0.297, 1.04),
    (-0.301, 1.13), (-0.296, 1.22), (-0.299, 1.31), (-0.295, 1.40), (-0.298, 1.49), (-0.296, 1.58), (-0.299, 1.67),
    (-0.297, 1.76), (-0.300, 1.85), (-0.296, 1.94), (-0.299, 2.02),
    (-0.287, 0.45), (-0.281, 0.54), (-0.290, 0.63), (-0.283, 0.72), (-0.288, 0.81), (-0.280, 0.90), (-0.286, 0.99),
    (-0.291, 1.08), (-0.284, 1.17), (-0.289, 1.26), (-0.282, 1.35), (-0.287, 1.44), (-0.281, 1.53), (-0.288, 1.62),
    (-0.284, 1.71), (-0.286, 1.80), (-0.282, 1.89), (-0.287, 1.98), (-0.283, 2.07),
    (-0.273, 0.51), (-0.270, 0.60), (-0.275, 0.69), (-0.271, 0.78), (-0.274, 0.87), (-0.269, 0.96), (-0.272, 1.05),
    (-0.276, 1.14), (-0.271, 1.23), (-0.274, 1.32), (-0.270, 1.41), (-0.273, 1.50), (-0.271, 1.59), (-0.274, 1.68),
    (-0.272, 1.77), (-0.275, 1.86), (-0.271, 1.95), (-0.274, 2.04), (-0.272, 2.11),
    (-0.262, 0.47), (-0.256, 0.56), (-0.265, 0.65), (-0.258, 0.74), (-0.263, 0.83), (-0.255, 0.92), (-0.261, 1.01),
    (-0.266, 1.10), (-0.259, 1.19), (-0.264, 1.28), (-0.257, 1.37), (-0.262, 1.46), (-0.256, 1.55), (-0.263, 1.64),
    (-0.259, 1.73), (-0.261, 1.82), (-0.257, 1.91), (-0.262, 2.00), (-0.258, 2.09), (-0.261, 2.15),
    (-0.248, 0.57), (-0.245, 0.66), (-0.250, 0.75), (-0.246, 0.84), (-0.249, 0.93), (-0.244, 1.02), (-0.247, 1.11),
    (-0.251, 1.20), (-0.246, 1.29), (-0.249, 1.38), (-0.245, 1.47), (-0.248, 1.56), (-0.246, 1.65), (-0.249, 1.74),
    (-0.247, 1.83), (-0.250, 1.92), (-0.246, 2.01), (-0.249, 2.10), (-0.247, 2.19),
    (-0.237, 0.53), (-0.231, 0.62), (-0.240, 0.71), (-0.233, 0.80), (-0.238, 0.89), (-0.230, 0.98), (-0.236, 1.07),
    (-0.241, 1.16), (-0.234, 1.25), (-0.239, 1.34), (-0.232, 1.43), (-0.237, 1.52), (-0.231, 1.61), (-0.238, 1.70),
    (-0.234, 1.79), (-0.236, 1.88), (-0.232, 1.97), (-0.237, 2.06), (-0.233, 2.15), (-0.236, 2.24),
    (-0.223, 0.62), (-0.220, 0.71), (-0.225, 0.80), (-0.221, 0.89), (-0.224, 0.98), (-0.219, 1.07), (-0.222, 1.16),
    (-0.226, 1.25), (-0.221, 1.34), (-0.224, 1.43), (-0.220, 1.52), (-0.223, 1.61), (-0.221, 1.70), (-0.224, 1.79),
    (-0.222, 1.88), (-0.225, 1.97), (-0.221, 2.06), (-0.224, 2.15), (-0.222, 2.24), (-0.224, 2.31),
    (-0.212, 0.58), (-0.206, 0.67), (-0.215, 0.76), (-0.208, 0.85), (-0.213, 0.94), (-0.205, 1.03), (-0.211, 1.12),
    (-0.216, 1.21), (-0.209, 1.30), (-0.214, 1.39), (-0.207, 1.48), (-0.212, 1.57), (-0.206, 1.66), (-0.213, 1.75),
    (-0.209, 1.84), (-0.211, 1.93), (-0.207, 2.02), (-0.212, 2.11), (-0.208, 2.20), (-0.211, 2.29), (-0.209, 2.36),
    (-0.198, 0.66), (-0.195, 0.75), (-0.200, 0.84), (-0.196, 0.93), (-0.199, 1.02), (-0.194, 1.11), (-0.197, 1.20),
    (-0.201, 1.29), (-0.196, 1.38), (-0.199, 1.47), (-0.195, 1.56), (-0.198, 1.65), (-0.196, 1.74), (-0.199, 1.83),
    (-0.197, 1.92), (-0.200, 2.01), (-0.196, 2.10), (-0.199, 2.19), (-0.197, 2.28), (-0.199, 2.37),
    (-0.187, 0.62), (-0.181, 0.71), (-0.190, 0.80), (-0.183, 0.89), (-0.188, 0.98), (-0.180, 1.07), (-0.186, 1.16),
    (-0.191, 1.25), (-0.184, 1.34), (-0.189, 1.43), (-0.182, 1.52), (-0.187, 1.61), (-0.181, 1.70), (-0.188, 1.79),
    (-0.184, 1.88), (-0.186, 1.97), (-0.182, 2.06), (-0.187, 2.15), (-0.183, 2.24), (-0.186, 2.33), (-0.184, 2.41),
    (-0.173, 0.71), (-0.170, 0.80), (-0.175, 0.89), (-0.171, 0.98), (-0.174, 1.07), (-0.169, 1.16), (-0.172, 1.25),
    (-0.176, 1.34), (-0.171, 1.43), (-0.174, 1.52), (-0.170, 1.61), (-0.173, 1.70), (-0.171, 1.79), (-0.174, 1.88),
    (-0.172, 1.97), (-0.175, 2.06), (-0.171, 2.15), (-0.174, 2.24), (-0.172, 2.33), (-0.174, 2.42),
    (-0.162, 0.67), (-0.156, 0.76), (-0.165, 0.85), (-0.158, 0.94), (-0.163, 1.03), (-0.155, 1.12), (-0.161, 1.21),
    (-0.166, 1.30), (-0.159, 1.39), (-0.164, 1.48), (-0.157, 1.57), (-0.162, 1.66), (-0.156, 1.75), (-0.163, 1.84),
    (-0.159, 1.93), (-0.161, 2.02), (-0.157, 2.11), (-0.162, 2.20), (-0.158, 2.29), (-0.161, 2.38), (-0.159, 2.46),
    (-0.148, 0.75), (-0.145, 0.84), (-0.150, 0.93), (-0.146, 1.02), (-0.149, 1.11), (-0.144, 1.20), (-0.147, 1.29),
    (-0.151, 1.38), (-0.146, 1.47), (-0.149, 1.56), (-0.145, 1.65), (-0.148, 1.74), (-0.146, 1.83), (-0.149, 1.92),
    (-0.147, 2.01), (-0.150, 2.10), (-0.146, 2.19), (-0.149, 2.28), (-0.147, 2.37), (-0.149, 2.46),
    (-0.137, 0.71), (-0.131, 0.80), (-0.140, 0.89), (-0.133, 0.98), (-0.138, 1.07), (-0.130, 1.16), (-0.136, 1.25),
    (-0.141, 1.34), (-0.134, 1.43), (-0.139, 1.52), (-0.132, 1.61), (-0.137, 1.70), (-0.131, 1.79), (-0.138, 1.88),
    (-0.134, 1.97), (-0.136, 2.06), (-0.132, 2.15), (-0.137, 2.24), (-0.133, 2.33), (-0.136, 2.42), (-0.134, 2.51),
    (-0.123, 0.79), (-0.120, 0.88), (-0.125, 0.97), (-0.121, 1.06), (-0.124, 1.15), (-0.119, 1.24), (-0.122, 1.33),
    (-0.126, 1.42), (-0.121, 1.51), (-0.124, 1.60), (-0.120, 1.69), (-0.123, 1.78), (-0.121, 1.87), (-0.124, 1.96),
    (-0.122, 2.05), (-0.125, 2.14), (-0.121, 2.23), (-0.124, 2.32), (-0.122, 2.41), (-0.124, 2.50),
    (-0.112, 0.75), (-0.106, 0.84), (-0.115, 0.93), (-0.108, 1.02), (-0.113, 1.11), (-0.105, 1.20), (-0.111, 1.29),
    (-0.116, 1.38), (-0.109, 1.47), (-0.114, 1.56), (-0.107, 1.65), (-0.112, 1.74), (-0.106, 1.83), (-0.113, 1.92),
    (-0.109, 2.01), (-0.111, 2.10), (-0.107, 2.19), (-0.112, 2.28), (-0.108, 2.37), (-0.111, 2.46), (-0.109, 2.55),
    (-0.098, 0.83), (-0.095, 0.92), (-0.100, 1.01), (-0.096, 1.10), (-0.099, 1.19), (-0.094, 1.28), (-0.097, 1.37),
    (-0.101, 1.46), (-0.096, 1.55), (-0.099, 1.64), (-0.095, 1.73), (-0.098, 1.82), (-0.096, 1.91), (-0.099, 2.00),
    (-0.097, 2.09), (-0.100, 2.18), (-0.096, 2.27), (-0.099, 2.36), (-0.097, 2.45), (-0.099, 2.53),
    (-0.087, 0.79), (-0.081, 0.88), (-0.090, 0.97), (-0.083, 1.06), (-0.088, 1.15), (-0.080, 1.24), (-0.086, 1.33),
    (-0.091, 1.42), (-0.084, 1.51), (-0.089, 1.60), (-0.082, 1.69), (-0.087, 1.78), (-0.081, 1.87), (-0.088, 1.96),
    (-0.084, 2.05), (-0.086, 2.14), (-0.082, 2.23), (-0.087, 2.32), (-0.083, 2.41), (-0.086, 2.50), (-0.084, 2.58),
    (-0.073, 0.88), (-0.070, 0.97), (-0.075, 1.06), (-0.071, 1.15), (-0.074, 1.24), (-0.069, 1.33), (-0.072, 1.42),
    (-0.076, 1.51), (-0.071, 1.60), (-0.074, 1.69), (-0.070, 1.78), (-0.073, 1.87), (-0.071, 1.96), (-0.074, 2.05),
    (-0.072, 2.14), (-0.075, 2.23), (-0.071, 2.32), (-0.074, 2.41), (-0.072, 2.50),
    (-0.062, 0.84), (-0.056, 0.93), (-0.065, 1.02), (-0.058, 1.11), (-0.063, 1.20), (-0.055, 1.29), (-0.061, 1.38),
    (-0.066, 1.47), (-0.059, 1.56), (-0.064, 1.65), (-0.057, 1.74), (-0.062, 1.83), (-0.056, 1.92), (-0.063, 2.01),
    (-0.059, 2.10), (-0.061, 2.19), (-0.057, 2.28), (-0.062, 2.37), (-0.058, 2.46), (-0.061, 2.55),
    (-0.048, 0.93), (-0.045, 1.02), (-0.050, 1.11), (-0.046, 1.20), (-0.049, 1.29), (-0.044, 1.38), (-0.047, 1.47),
    (-0.051, 1.56), (-0.046, 1.65), (-0.049, 1.74), (-0.045, 1.83), (-0.048, 1.92), (-0.046, 2.01), (-0.049, 2.10),
    (-0.047, 2.19), (-0.050, 2.28), (-0.046, 2.37), (-0.049, 2.46),
    (-0.037, 0.89), (-0.031, 0.98), (-0.040, 1.07), (-0.033, 1.16), (-0.038, 1.25), (-0.030, 1.34), (-0.036, 1.43),
    (-0.041, 1.52), (-0.034, 1.61), (-0.039, 1.70), (-0.032, 1.79), (-0.037, 1.88), (-0.031, 1.97), (-0.038, 2.06),
    (-0.034, 2.15), (-0.036, 2.24), (-0.032, 2.33), (-0.037, 2.42), (-0.033, 2.52),
    (-0.023, 0.98), (-0.020, 1.07), (-0.025, 1.16), (-0.021, 1.25), (-0.024, 1.34), (-0.019, 1.43), (-0.022, 1.52),
    (-0.026, 1.61), (-0.021, 1.70), (-0.024, 1.79), (-0.020, 1.88), (-0.023, 1.97), (-0.021, 2.06), (-0.024, 2.15),
    (-0.022, 2.24), (-0.025, 2.33), (-0.021, 2.42),
    (-0.012, 0.94), (-0.006, 1.03), (-0.015, 1.12), (-0.008, 1.21), (-0.013, 1.30), (-0.005, 1.39), (-0.011, 1.48),
    (-0.016, 1.57), (-0.009, 1.66), (-0.014, 1.75), (-0.007, 1.84), (-0.012, 1.93), (-0.006, 2.02), (-0.013, 2.11),
    (-0.009, 2.20), (-0.011, 2.29), (-0.007, 2.38), (-0.012, 2.47),
    (0.002, 1.03), (0.005, 1.12), (0.000, 1.21), (0.004, 1.30), (0.001, 1.39), (0.006, 1.48), (0.003, 1.57),
    (-0.001, 1.66), (0.004, 1.75), (0.001, 1.84), (0.005, 1.93), (0.002, 2.02), (0.004, 2.11), (0.001, 2.20),
    (0.003, 2.29), (0.000, 2.38),
    (0.013, 0.99), (0.019, 1.08), (0.010, 1.17), (0.017, 1.26), (0.012, 1.35), (0.020, 1.44), (0.014, 1.53),
    (0.009, 1.62), (0.016, 1.71), (0.011, 1.80), (0.018, 1.89), (0.013, 1.98), (0.019, 2.07), (0.012, 2.16),
    (0.016, 2.25), (0.014, 2.34), (0.018, 2.40),
    (0.027, 1.08), (0.030, 1.17), (0.025, 1.26), (0.029, 1.35), (0.026, 1.44), (0.031, 1.53), (0.028, 1.62),
    (0.024, 1.71), (0.029, 1.80), (0.026, 1.89), (0.030, 1.98), (0.027, 2.07), (0.029, 2.16), (0.026, 2.25),
    (0.038, 1.03), (0.044, 1.12), (0.035, 1.21), (0.042, 1.30), (0.037, 1.39), (0.045, 1.48), (0.039, 1.57),
    (0.034, 1.66), (0.041, 1.75), (0.036, 1.84), (0.043, 1.93), (0.038, 2.02), (0.044, 2.11), (0.037, 2.20),
    (0.041, 2.29),
    (0.052, 1.12), (0.055, 1.21), (0.050, 1.30), (0.054, 1.39), (0.051, 1.48), (0.056, 1.57), (0.053, 1.66),
    (0.049, 1.75), (0.054, 1.84), (0.051, 1.93), (0.055, 2.02), (0.052, 2.11), (0.054, 2.19),
    (0.063, 1.08), (0.069, 1.17), (0.060, 1.26), (0.067, 1.35), (0.062, 1.44), (0.070, 1.53), (0.064, 1.62),
    (0.059, 1.71), (0.066, 1.80), (0.061, 1.89), (0.068, 1.98), (0.063, 2.07), (0.069, 2.16), (0.065, 2.22),
    (0.077, 1.17), (0.080, 1.26), (0.075, 1.35), (0.079, 1.44), (0.076, 1.53), (0.081, 1.62), (0.078, 1.71),
    (0.074, 1.80), (0.079, 1.89), (0.076, 1.98), (0.080, 2.07),
    (0.088, 1.13), (0.094, 1.22), (0.085, 1.31), (0.092, 1.40), (0.087, 1.49), (0.095, 1.58), (0.089, 1.67),
    (0.084, 1.76), (0.091, 1.85), (0.086, 1.94), (0.093, 2.03), (0.090, 2.10),
    (0.102, 1.24), (0.105, 1.33), (0.100, 1.42), (0.104, 1.51), (0.101, 1.60), (0.106, 1.69), (0.103, 1.78),
    (0.099, 1.87), (0.104, 1.96),
    (0.113, 1.21), (0.119, 1.30), (0.110, 1.39), (0.117, 1.48), (0.112, 1.57), (0.120, 1.66), (0.114, 1.75),
    (0.109, 1.84), (0.116, 1.93),
    (0.127, 1.33), (0.130, 1.42), (0.125, 1.51), (0.129, 1.60), (0.126, 1.69), (0.131, 1.78),
    (0.138, 1.31), (0.144, 1.40), (0.135, 1.49), (0.142, 1.58), (0.137, 1.67), (0.145, 1.76),
    (0.152, 1.42), (0.155, 1.52), (0.150, 1.62), (0.153, 1.70),
    (0.163, 1.43), (0.168, 1.55), (0.160, 1.66),
]

# Clumpfind, linewidth-size
cf_lw_pts = [
    (-0.558, -0.26), (-0.492, -0.22), (-0.406, -0.44), (-0.326, -0.01), (-0.316, -0.46), (-0.296, -0.51),
    (-0.272, -0.42), (-0.235, -0.76), (-0.213, -0.72), (-0.162, -0.61), (-0.160, -0.20), (-0.153, -0.37),
    (-0.114, -0.27), (-0.110, -0.42), (-0.107, 0.02), (-0.106, -0.37), (-0.105, -0.46), (-0.110, -0.55),
    (-0.100, -0.11), (-0.083, -0.14), (-0.084, -0.37), (-0.070, -0.51), (-0.070, -0.75), (-0.066, -0.02),
    (-0.045, 0.01), (-0.034, -0.06), (-0.037, -0.27), (-0.025, -0.77), (-0.022, -0.37), (-0.021, -0.45),
    (-0.021, -0.47), (-0.011, -0.52), (-0.004, -0.22), (0.010, 0.00), (0.015, -0.26), (0.018, -0.40),
    (0.019, -0.65), (0.028, -0.12), (0.032, -0.34), (0.034, -0.60), (0.048, 0.07), (0.051, -0.06), (0.044, -0.40),
    (0.054, -0.22), (0.062, -0.37), (0.070, -0.08), (0.078, -0.04), (0.087, -0.51), (0.087, -0.75), (0.099, -0.40),
    (0.109, -0.27), (0.113, -0.65), (0.113, -0.69), (0.122, -0.64), (0.131, -0.49), (0.140, -0.83), (0.154, -0.42),
    (0.161, -0.04), (0.175, -0.37), (0.195, -0.63), (0.199, -0.02), (0.223, -0.60), (0.237, -0.05), (0.254, -0.49),
    (0.253, -0.66), (0.271, -0.01), (0.285, -0.10), (0.307, -0.11), (0.319, -0.19), (0.333, -0.24), (0.351, -0.27),
    (0.365, -0.19), (0.367, -0.43), (0.381, -0.52), (0.319, -0.36), (0.275, -0.39), (0.292, -0.28), (0.298, -0.31),
    (-0.036, -0.06), (0.052, -0.06), (0.083, -0.05), (0.067, -0.09), (0.116, -0.08), (0.149, -0.04), (0.165, -0.03),
    (0.183, -0.02), (0.200, -0.02), (0.180, -0.07), (0.213, -0.07), (0.237, -0.06), (-0.101, -0.11),
    (-0.083, -0.14), (0.029, -0.13), (0.065, -0.11), (0.092, -0.11), (0.054, -0.15), (0.076, -0.15), (0.106, -0.15),
    (0.127, -0.13), (0.146, -0.11), (0.154, -0.14), (0.165, -0.10), (0.172, -0.15), (0.189, -0.17), (0.202, -0.14),
    (0.223, -0.15), (0.241, -0.17), (0.258, -0.13), (0.285, -0.10), (0.306, -0.11), (0.295, -0.17), (0.278, -0.19),
    (0.258, -0.22), (0.230, -0.22), (0.209, -0.19), (0.182, -0.21), (0.161, -0.23), (0.147, -0.20), (0.127, -0.22),
    (0.106, -0.20), (0.085, -0.19), (0.065, -0.21), (0.044, -0.22), (0.023, -0.23), (0.003, -0.24), (-0.018, -0.26),
    (-0.034, -0.27), (0.017, -0.27), (0.037, -0.26), (0.058, -0.28), (0.079, -0.26), (0.099, -0.25), (0.113, -0.28),
    (0.134, -0.27), (0.147, -0.29), (0.168, -0.25), (0.182, -0.27), (0.200, -0.24), (0.216, -0.26), (0.233, -0.25),
    (0.251, -0.28), (0.271, -0.28), (0.285, -0.29), (0.306, -0.31), (0.326, -0.19), (0.365, -0.19), (0.333, -0.25),
    (0.354, -0.27), (0.320, -0.36), (0.258, -0.33), (0.237, -0.35), (0.216, -0.36), (0.196, -0.36), (0.175, -0.34),
    (0.154, -0.33), (0.134, -0.32), (0.113, -0.33), (0.092, -0.32), (0.072, -0.33), (0.051, -0.34), (0.030, -0.35),
    (0.007, -0.33), (-0.011, -0.32), (0.023, -0.40), (0.051, -0.39), (0.065, -0.37), (0.085, -0.36), (0.120, -0.38),
    (0.140, -0.39), (0.161, -0.40), (0.182, -0.39), (0.202, -0.40), (0.223, -0.40), (0.275, -0.40), (-0.018, -0.38),
    (-0.018, -0.45), (-0.021, -0.48), (0.023, -0.44), (0.099, -0.41), (0.127, -0.42), (0.168, -0.45), (0.182, -0.43),
    (0.103, -0.27), (0.092, -0.28), (0.113, -0.26), (0.168, -0.21), (0.175, -0.23),
]

# Clumpfind, mass-size
cf_ms_pts = [
    (-0.735, 0.60), (-0.737, 0.86), (-0.557, 0.71), (-0.555, 1.27), (-0.490, 1.47), (-0.404, 1.15), (-0.322, 1.68),
    (-0.317, 1.43), (-0.293, 1.24), (-0.274, 1.39), (-0.236, 1.16), (-0.212, 1.43), (-0.161, 1.54), (-0.161, 1.91),
    (-0.149, 2.43), (-0.111, 2.69), (-0.081, 2.90), (-0.068, 2.65), (-0.042, 2.81), (-0.030, 2.77), (-0.036, 2.08),
    (-0.107, 1.66), (-0.109, 1.50), (-0.103, 1.82), (-0.100, 1.96), (-0.104, 1.89), (-0.081, 1.71), (-0.072, 1.66),
    (-0.071, 1.44), (-0.019, 1.87), (-0.015, 1.78), (-0.017, 1.83), (0.019, 1.75), (0.022, 1.87), (0.028, 1.96),
    (0.277, 3.74), (0.310, 3.74), (0.196, 3.60), (0.232, 3.60), (0.186, 3.50), (0.152, 3.48), (0.163, 3.53),
    (0.157, 3.45), (0.194, 3.41), (0.274, 3.45), (0.286, 3.34), (0.293, 3.27), (0.299, 3.38), (0.284, 3.23),
    (0.258, 3.16), (0.235, 3.23), (0.219, 3.27), (0.181, 3.27), (0.164, 3.34), (0.099, 3.34), (0.080, 3.18),
    (0.074, 3.27), (0.048, 3.09), (0.061, 3.13), (0.099, 3.09), (0.119, 3.11), (0.138, 3.16), (0.170, 3.16),
    (0.186, 3.20), (0.203, 3.13), (0.186, 3.04), (0.206, 3.06), (0.228, 3.02), (0.164, 3.06), (0.145, 3.02),
    (0.351, 3.06), (0.364, 3.02), (0.328, 2.82), (0.361, 2.77), (0.386, 3.02), (0.376, 3.00), (0.340, 2.83),
    (-0.107, 2.97), (-0.088, 2.92), (-0.043, 2.82), (-0.036, 2.77), (-0.116, 2.68), (-0.066, 2.65), (-0.013, 2.61),
    (0.039, 2.95), (0.048, 2.88), (0.054, 2.80), (0.067, 2.99), (0.074, 2.89), (0.086, 2.84), (0.106, 3.02),
    (0.106, 2.92), (0.119, 2.81), (0.132, 2.88), (0.145, 2.82), (0.164, 2.92), (0.173, 2.81), (0.190, 2.88),
    (0.209, 2.88), (0.222, 2.81), (0.241, 2.88), (0.258, 2.94),
    (0.015, 2.70), (0.028, 2.63), (0.041, 2.68), (0.061, 2.60), (0.080, 2.70), (0.099, 2.63), (0.119, 2.68),
    (0.138, 2.60), (0.157, 2.67), (0.177, 2.60), (0.196, 2.67), (0.215, 2.60), (0.235, 2.67), (0.254, 2.56),
    (0.274, 2.63), (0.293, 2.56), (0.286, 2.56), (0.292, 2.67), (0.254, 2.21), (0.198, 2.02),
    (-0.017, 2.47), (0.000, 2.42), (0.009, 2.49), (0.026, 2.39), (0.041, 2.46), (0.054, 2.37), (0.070, 2.42),
    (0.086, 2.35), (0.103, 2.42), (0.119, 2.35), (0.138, 2.42), (0.155, 2.35), (0.170, 2.46), (0.186, 2.37),
    (0.203, 2.44), (0.222, 2.35), (0.241, 2.42), (0.258, 2.35),
    (0.015, 2.24), (0.035, 2.28), (0.052, 2.21), (0.070, 2.26), (0.086, 2.19), (0.103, 2.24), (0.121, 2.17),
    (0.139, 2.23), (0.157, 2.16), (0.177, 2.21), (0.194, 2.14), (0.212, 2.19), (0.230, 2.14), (0.248, 2.21),
    (0.061, 2.10), (0.080, 2.07), (0.099, 2.03), (0.119, 2.09), (0.138, 2.02), (0.157, 2.07), (0.177, 2.00),
    (0.196, 2.05), (0.067, 1.96), (0.086, 1.92), (0.106, 1.97), (0.125, 1.89), (0.145, 1.95), (0.041, 2.00),
    (0.048, 1.89), (-0.034, 2.07), (-0.101, 2.00), (-0.107, 1.85), (-0.094, 1.89), (0.028, 2.14), (0.015, 2.04),
    (0.112, 1.89), (0.119, 1.85), (0.145, 1.75), (-0.023, 1.85), (-0.010, 1.82), (0.028, 1.85), (0.018, 1.78),
    (-0.107, 1.68), (-0.075, 1.69), (-0.065, 1.71), (-0.023, 1.89), (0.261, 2.31), (0.267, 2.21), (0.286, 2.31),
    (0.106, 2.52), (0.093, 2.49), (0.125, 2.56), (0.157, 2.49), (0.183, 2.53), (0.209, 2.54), (0.235, 2.49),
    (0.152, 3.09), (0.170, 2.70), (0.190, 2.70),
    (0.08, 2.30), (0.09, 2.15), (0.11, 2.28), (0.12, 2.20), (0.13, 2.30), (0.10, 2.36), (0.14, 2.12), (0.15, 2.26),
    (0.16, 2.33), (0.17, 2.25), (0.18, 2.41), (0.19, 2.31), (0.20, 2.38), (0.21, 2.28), (0.22, 2.47), (0.23, 2.40),
    (0.24, 2.30), (0.25, 2.45), (0.07, 2.12), (0.06, 2.20), (0.05, 2.31), (0.085, 2.05), (0.105, 2.12),
    (0.125, 2.02), (0.145, 2.40), (0.165, 2.50), (0.185, 2.52), (0.205, 2.46), (0.225, 2.55), (0.245, 2.60),
    (0.095, 2.45), (0.115, 2.50), (0.135, 2.55), (0.155, 2.62), (0.175, 2.75), (0.195, 2.80), (0.215, 2.72),
    (0.235, 2.78),
]

# M ~ R^2 reference lines and mass-completeness limits
fit_logR = [-0.8, 0.5]
gc_fit_logM = [0.1, 2.7]
cf_fit_logM = [0.72, 3.32]
gc_mass_limit = 1.2
cf_mass_limit = 2.5

gc_lw_pts = gc_lw_outer + gc_lw_left + gc_lw_core
gc_ms_pts = gc_ms_outer + gc_ms_core

# ---------------- figure ----------------
W, H = 972, 627
OFF = 8  # default page margin of the html body
FONT = "DejaVu Serif"


def px(x):
    return (x - OFF) / W


def py(y):
    return 1 - (y - OFF) / H


def unzip(pts):
    return [p[0] for p in pts], [p[1] for p in pts]


fig = go.Figure()

x, y = unzip(gc_lw_pts)
fig.add_trace(go.Scatter(x=x, y=y, mode="markers", xaxis="x", yaxis="y",
                         marker=dict(symbol="circle", size=4, color="black", line=dict(width=0))))
x, y = unzip(gc_ms_pts)
fig.add_trace(go.Scatter(x=x, y=y, mode="markers", xaxis="x2", yaxis="y2",
                         marker=dict(symbol="x", size=6, color="black", line=dict(width=0))))
fig.add_trace(go.Scatter(x=fit_logR, y=gc_fit_logM, mode="lines", xaxis="x2", yaxis="y2",
                         line=dict(color="#999999", width=3)))
x, y = unzip(cf_lw_pts)
fig.add_trace(go.Scatter(x=x, y=y, mode="markers", xaxis="x3", yaxis="y3",
                         marker=dict(symbol="circle", size=3.6, color="black", line=dict(width=0))))
x, y = unzip(cf_ms_pts)
fig.add_trace(go.Scatter(x=x, y=y, mode="markers", xaxis="x4", yaxis="y4",
                         marker=dict(symbol="x", size=6, color="black", line=dict(width=0))))
fig.add_trace(go.Scatter(x=fit_logR, y=cf_fit_logM, mode="lines", xaxis="x4", yaxis="y4",
                         line=dict(color="#999999", width=3)))

axis_common = dict(
    showgrid=False, zeroline=False, showline=True, linecolor="black", linewidth=1.5,
    mirror="allticks", ticks="inside", ticklen=10, tickwidth=1.2, tickcolor="black",
    tickfont=dict(family=FONT, size=17, color="black"),
)


def minor(d):
    return dict(ticks="inside", ticklen=5, tickwidth=1.2, tickcolor="black", dtick=d, tick0=0, showgrid=False)


xl_dom = [px(97), px(485)]
xr_dom = [px(586), px(971)]
yt_dom = [py(271), py(33)]
yb_dom = [py(575), py(338)]

fig.update_layout(
    width=W, height=H, margin=dict(l=0, r=0, t=0, b=0, autoexpand=False),
    paper_bgcolor="white", plot_bgcolor="white", showlegend=False,
    xaxis=dict(domain=xl_dom, range=[-0.8, 0.8], anchor="y", tick0=0, dtick=0.5, minor=minor(0.1),
               ticklabelstandoff=1, **axis_common),
    yaxis=dict(domain=yt_dom, range=[-1.1, 0.5], anchor="x", tick0=0, dtick=0.5, minor=minor(0.1),
               ticklabelstandoff=6, **axis_common),
    xaxis2=dict(domain=xr_dom, range=[-0.903, 0.587], anchor="y2", tick0=0, dtick=0.5, minor=minor(0.1),
                ticklabelstandoff=1, **axis_common),
    yaxis2=dict(domain=yt_dom, range=[-0.5, 4.5], anchor="x2", tick0=0, dtick=1, minor=minor(0.2),
                ticklabelstandoff=6, **axis_common),
    xaxis3=dict(domain=xl_dom, range=[-0.8, 0.8], anchor="y3", tick0=0, dtick=0.5, minor=minor(0.1),
                ticklabelstandoff=1, **axis_common),
    yaxis3=dict(domain=yb_dom, range=[-1.1, 0.5], anchor="x3", tick0=0, dtick=0.5, minor=minor(0.1),
                ticklabelstandoff=6, **axis_common),
    xaxis4=dict(domain=xr_dom, range=[-0.903, 0.587], anchor="y4", tick0=0, dtick=0.5, minor=minor(0.1),
                ticklabelstandoff=1, **axis_common),
    yaxis4=dict(domain=yb_dom, range=[-0.5, 4.5], anchor="x4", tick0=0, dtick=1, minor=minor(0.2),
                ticklabelstandoff=6, **axis_common),
)

dash = dict(color="#333333", width=1.5, dash="9px,6px")
fig.add_shape(type="line", xref="x2 domain", yref="y2", x0=0, x1=1, y0=gc_mass_limit, y1=gc_mass_limit,
              line=dash, layer="below")
fig.add_shape(type="line", xref="x4 domain", yref="y4", x0=0, x1=1, y0=cf_mass_limit, y1=cf_mass_limit,
              line=dash, layer="below")


def txt(text, x, y, size=19, color="black", xanchor="center", angle=0):
    fig.add_annotation(text=text, x=px(x), y=py(y), xref="paper", yref="paper", showarrow=False,
                       xanchor=xanchor, yanchor="middle", textangle=angle,
                       font=dict(family=FONT, size=size, color=color))


txt("Linewidth\u2212size", 291, 26, size=20)
txt("Mass\u2212size", 779, 26, size=20)
txt("Gaussclumps", 120, 57, size=20, xanchor="left")
txt("Gaussclumps", 637, 58, size=20, xanchor="left")
txt("Clumpfind", 120, 360, size=20, xanchor="left")
txt("Clumpfind", 637, 362, size=20, xanchor="left")
msr = "M\u00a0\u00a0~\u00a0\u00a0R<sup>2</sup>"
txt(msr, 883, 161, size=17, color="#999999", xanchor="left")
txt(msr, 883, 464, size=17, color="#999999", xanchor="left")
xt = "log\u00a0\u00a0R[pc]"
txt(xt, 291, 313, size=19)
txt(xt, 780, 313, size=19)
txt(xt, 291, 614, size=19)
txt(xt, 780, 614, size=19)
yl = "log\u00a0\u00a0<i>\u03c3</i>\u00a0\u00a0[km/s]"
txt(yl, 25, 172, size=19, angle=-90)
txt(yl, 25, 477, size=19, angle=-90)
ym = "log\u00a0\u00a0M\u00a0\u00a0[M<sub>sol</sub>]"
txt(ym, 535, 162, size=19, angle=-90)
txt(ym, 535, 465, size=19, angle=-90)

fig.write_html("out.html")
